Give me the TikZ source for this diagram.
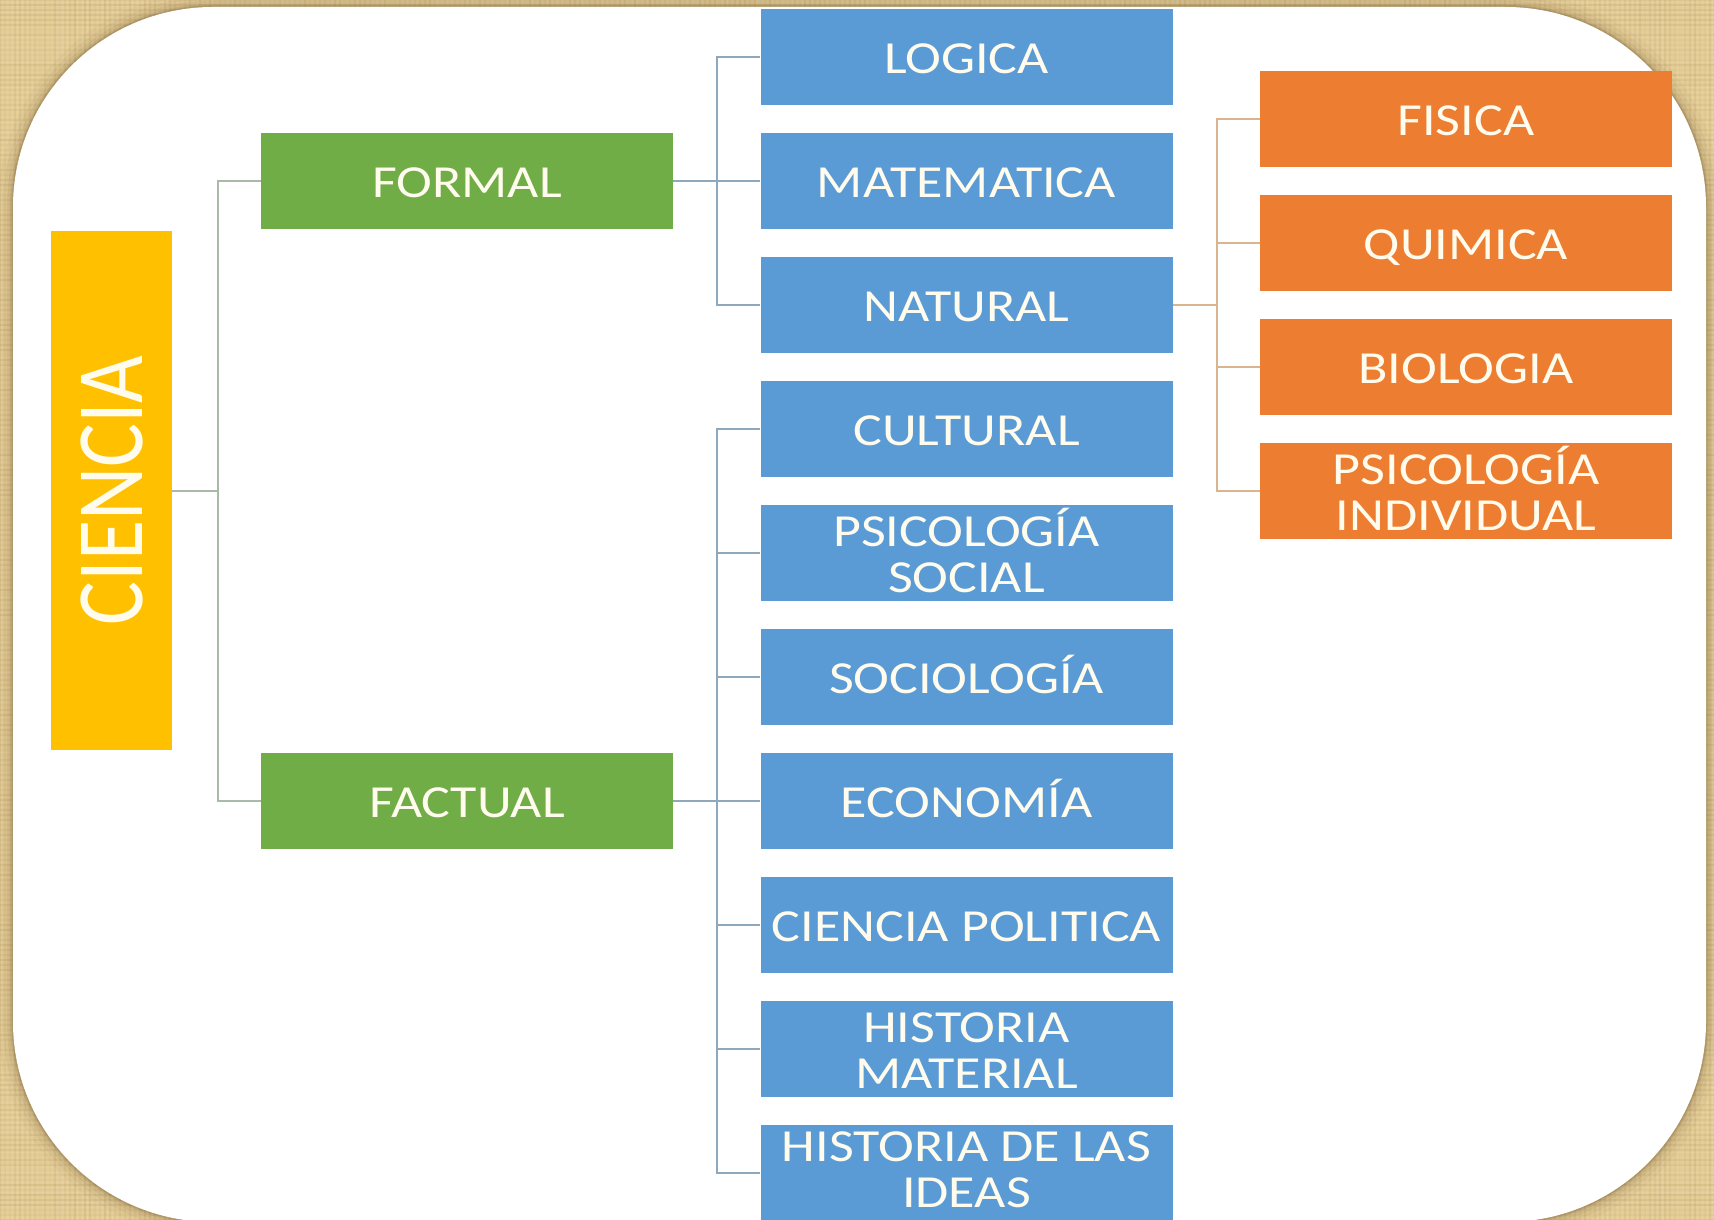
\documentclass[tikz,border=0pt]{standalone}
\usepackage{fontspec}
\setmainfont{Carlito}
\usetikzlibrary{calc}
\definecolor{bgtan}{HTML}{E4CD97}
\definecolor{bgdark}{HTML}{A98550}
\definecolor{shad}{HTML}{6B5128}
\definecolor{cyel}{HTML}{FFC000}
\definecolor{cgrn}{HTML}{70AD47}
\definecolor{cblu}{HTML}{5B9BD5}
\definecolor{corg}{HTML}{ED7D31}
\definecolor{ctxt}{HTML}{FFFCEE}
\definecolor{lgrn}{HTML}{A9BAA8}
\definecolor{lblu}{HTML}{8EA8BE}
\definecolor{lorg}{HTML}{D9B48E}
% one line of box text, flattened to Calibri-like proportions
\newcommand\OL[1]{\scalebox{1}[0.85]{#1}}
% two lines of box text, fixed baseline distance, caps-only height
\newcommand\TL[2]{\scalebox{1}[0.85]{\raisebox{0pt}[92.7pt][0pt]{\vbox{\baselineskip=54pt\lineskiplimit=-100pt\lineskip=0pt\halign{\hfil##\hfil\cr#1\cr#2\cr}}}}}
\begin{document}
\begin{tikzpicture}[x=1pt,y=-1pt,
  boxbase/.style={inner sep=0pt, minimum width=412pt, minimum height=96pt, text=ctxt, font=\fontsize{54}{54}\selectfont},
  one/.style={boxbase, text height=33pt, text depth=0pt},
  two/.style={boxbase},
  blu/.style={fill=cblu},
  grn/.style={fill=cgrn},
  org/.style={fill=corg},
  lg/.style={draw=lgrn, line width=2pt},
  lb/.style={draw=lblu, line width=2pt},
  lo/.style={draw=lorg, line width=2pt}
]
\useasboundingbox (0,0) rectangle (1714,1220);
% background (parchment)
\fill[bgtan] (0,0) rectangle (1714,1220);
\pgfmathsetseed{7}
\foreach \i in {0,5,...,1715} {\pgfmathsetmacro\o{0.02+0.14*rnd}\pgfmathsetmacro\p{0.1*rnd}
  \draw[bgdark, opacity=\o, line width=2pt] (\i,0) -- (\i,1220);
  \draw[white, opacity=\p, line width=1.5pt] (\i+2.5,0) -- (\i+2.5,1220);}
\foreach \j in {0,5,...,1220} {\pgfmathsetmacro\o{0.02+0.14*rnd}\pgfmathsetmacro\p{0.1*rnd}
  \draw[bgdark, opacity=\o, line width=2pt] (0,\j) -- (1714,\j);
  \draw[white, opacity=\p, line width=1.5pt] (0,\j+2.5) -- (1714,\j+2.5);}
% card shadow
\foreach \w/\o in {30/0.04,20/0.06,12/0.08,6/0.12,3/0.2}
  \draw[shad, opacity=\o, line width=\w pt, rounded corners=200pt] (13,7) rectangle (1706,1222);
\fill[white, rounded corners=200pt] (13,7) rectangle (1706,1222);

% nodes
\node[fill=cyel, inner sep=0pt, minimum width=121pt, minimum height=519pt, text=ctxt] (ciencia) at (111.5,490.5)
  {\rotatebox{90}{\scalebox{0.84}[0.97]{\fontsize{98}{100}\selectfont CIENCIA}}};
\node[one, grn] (formal)  at (467,181) {\OL{FORMAL}};
\node[one, grn] (factual) at (467,801) {\OL{FACTUAL}};

\node[one, blu] (logica)   at (966.5,57)   {\OL{LOGICA}};
\node[one, blu] (mate)     at (966.5,181)  {\OL{MATEMATICA}};
\node[one, blu] (natural)  at (966.5,305)  {\OL{NATURAL}};
\node[one, blu] (cultural) at (966.5,429)  {\OL{CULTURAL}};
\node[two, blu] (psoc)     at (966.5,553)  {\TL{PSICOLOGÍA}{SOCIAL}};
\node[one, blu] (socio)    at (966.5,677)  {\OL{SOCIOLOGÍA}};
\node[one, blu] (econ)     at (966.5,801)  {\OL{ECONOMÍA}};
\node[one, blu] (polit)    at (966.5,925)  {\OL{CIENCIA POLITICA}};
\node[two, blu] (hmat)     at (966.5,1049) {\TL{HISTORIA}{MATERIAL}};
\node[two, blu] (ideas)    at (966.5,1173) {\raisebox{5pt}[\height][\depth]{\TL{HISTORIA DE LAS}{IDEAS}}};

\node[one, org] (fisica)  at (1466,119) {\OL{FISICA}};
\node[one, org] (quimica) at (1466,243) {\OL{QUIMICA}};
\node[one, org] (bio)     at (1466,367) {\OL{BIOLOGIA}};
\node[two, org] (pind)    at (1466,491) {\TL{PSICOLOGÍA}{INDIVIDUAL}};

% connectors
\coordinate (b0) at (218,490.5);
\coordinate (b1) at (717,0);
\coordinate (b2) at (1217,0);
\draw[lg] (ciencia.east) -- (ciencia.east -| b0);
\draw[lg] (formal.west) -- (formal.west -| b0) -- (factual.west -| b0) -- (factual.west);

\draw[lb] (formal.east) -- (mate.west);
\draw[lb] (logica.west) -- (logica.west -| b1) -- (natural.west -| b1) -- (natural.west);
\draw[lb] (factual.east) -- (econ.west);
\draw[lb] (cultural.west) -- (cultural.west -| b1) -- (ideas.west -| b1) -- (ideas.west);
\foreach \n in {psoc,socio,polit,hmat} \draw[lb] (\n.west) -- (\n.west -| b1);

\draw[lo] (natural.east) -- (natural.east -| b2);
\draw[lo] (fisica.west) -- (fisica.west -| b2) -- (pind.west -| b2) -- (pind.west);
\foreach \n in {quimica,bio} \draw[lo] (\n.west) -- (\n.west -| b2);
\end{tikzpicture}
\end{document}
